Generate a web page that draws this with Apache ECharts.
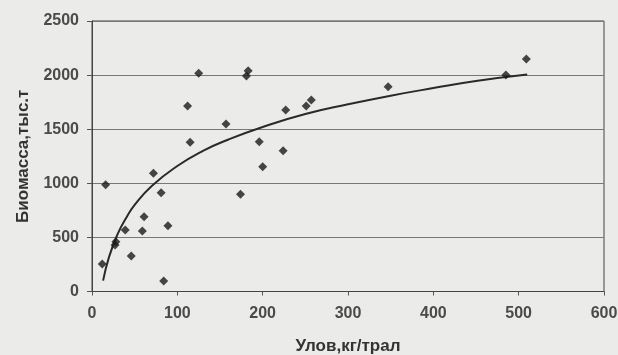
<!DOCTYPE html>
<html><head><meta charset="utf-8">
<script src="https://cdn.jsdelivr.net/npm/echarts@6/dist/echarts.min.js"></script>
<style>html,body{margin:0;padding:0;background:#ebebea;}#c{width:618px;height:355px;}</style>
</head><body><div id="c"></div>
<script>
// Observed points: catch (kg/trawl) and biomass (thousand t)
const catchX = [12, 16, 27, 28, 39, 46, 59, 61, 72, 81, 84, 89, 112, 115, 125, 157, 174, 181, 183, 196, 200, 224, 227, 251, 257, 347, 485, 509];
const biomassY = [254, 987, 430, 460, 568, 328, 559, 691, 1092, 913, 97, 608, 1714, 1379, 2017, 1548, 898, 1992, 2041, 1385, 1153, 1301, 1677, 1714, 1770, 1893, 2001, 2149];
// Trend curve
const trendX = [13, 20, 30, 40, 50, 70, 100, 130, 160, 200, 250, 300, 350, 400, 450, 510];
const trendY = [100, 320, 530, 680, 800, 975, 1160, 1300, 1405, 1520, 1640, 1730, 1810, 1880, 1945, 2005];
const xTicks = [0, 100, 200, 300, 400, 500, 600];
const yTicks = [0, 500, 1000, 1500, 2000, 2500];
const xTitle = 'Улов,кг/трал';
const yTitle = 'Биомасса,тыс.т';

const chart = echarts.init(document.getElementById('c'));
const lab = {color:'#4a4a4a', fontFamily:'Liberation Sans, Arial', fontSize:16, fontWeight:'bold', formatter:v=>String(v)};
const ttl = {color:'#333', fontFamily:'Liberation Sans, Arial', fontSize:17, fontWeight:'bold'};
chart.setOption({
  backgroundColor:'#ebebea',
  animation:false,
  grid:{left:92, right:14, top:21, bottom:63.5, show:true, borderColor:'#444', borderWidth:1, backgroundColor:'transparent', containLabel:false, outerBoundsMode:'none'},
  xAxis:{type:'value', min:xTicks[0], max:xTicks[xTicks.length-1], interval:100,
    name:xTitle, nameLocation:'middle', nameGap:46, nameTextStyle:ttl,
    axisLine:{lineStyle:{color:'#444'}}, axisTick:{show:true, length:4, lineStyle:{color:'#555'}},
    axisLabel:Object.assign({margin:14}, lab), splitLine:{show:false}},
  yAxis:{type:'value', min:yTicks[0], max:yTicks[yTicks.length-1], interval:500,
    name:yTitle, nameLocation:'middle', nameGap:60, nameTextStyle:ttl,
    axisLine:{show:true, lineStyle:{color:'#444'}}, axisTick:{show:true, length:5, lineStyle:{color:'#555'}},
    axisLabel:Object.assign({margin:13}, lab),
    splitLine:{show:true, lineStyle:{color:'#777', width:1}}},
  series:[
    {type:'line', data:trendX.map((x,i)=>[x,trendY[i]]), smooth:true, showSymbol:false,
      lineStyle:{color:'#2a2a2a', width:2}, z:3},
    {type:'scatter', data:catchX.map((x,i)=>[x,biomassY[i]]), symbol:'diamond', symbolSize:9,
      itemStyle:{color:'#1a1a1a'}, z:4}
  ]
});
</script></body></html>
